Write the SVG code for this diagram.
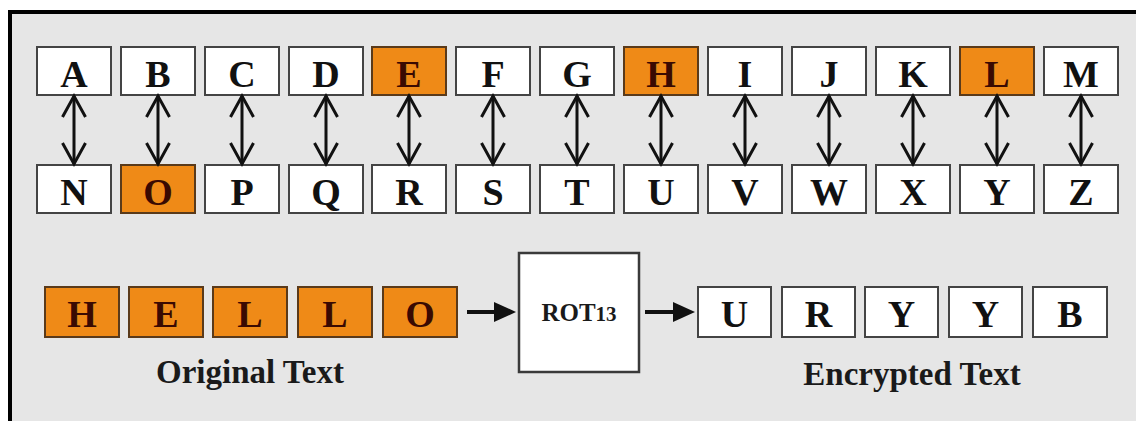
<svg xmlns="http://www.w3.org/2000/svg" width="1136" height="421" viewBox="0 0 1136 421">
  <style>
    .box { fill: #ffffff; stroke: #444444; stroke-width: 2; }
    .hot { fill: #ef8a17; stroke: #5a3a1a; stroke-width: 2; }
    .ltr { font-family: "Liberation Serif", "Times New Roman", serif; font-weight: bold; font-size: 38px; text-anchor: middle; fill: #111111; }
    .hot-ltr { fill: #3a0a02; }
    .lbl { font-family: "Liberation Serif", "Times New Roman", serif; font-weight: bold; font-size: 33px; text-anchor: middle; fill: #1a1a1a; }
    .rot { font-family: "Liberation Serif", "Times New Roman", serif; font-weight: bold; font-size: 25px; text-anchor: middle; fill: #1a1a1a; }
    .pair { stroke: #111111; stroke-width: 3; fill: none; marker-start: url(#chev); marker-end: url(#chev); }
    .flow { stroke: #111111; stroke-width: 4; fill: none; marker-end: url(#tri); }
  </style>
  <defs>
    <marker id="chev" markerUnits="userSpaceOnUse" viewBox="-26 -16 30 32" markerWidth="30" markerHeight="32" refX="0" refY="0" orient="auto-start-reverse" overflow="visible">
      <path d="M-21,-11.5 L0,0 L-21,11.5" fill="none" stroke="#111111" stroke-width="3" stroke-linejoin="miter"/>
    </marker>
    <marker id="tri" markerUnits="userSpaceOnUse" viewBox="-24 -12 28 24" markerWidth="28" markerHeight="24" refX="-10" refY="0" orient="auto" overflow="visible">
      <path d="M-22,-10 L0,0 L-22,10 Z" fill="#111111"/>
    </marker>
  </defs>

  <!-- page and frame -->
  <rect x="0" y="0" width="1136" height="421" fill="#ffffff"/>
  <rect x="10" y="12" width="1126" height="409" fill="#e6e6e6"/>
  <path d="M10,421 V12 H1136" fill="none" stroke="#000000" stroke-width="4"/>

  <!-- alphabet, first half -->
  <g id="A"><rect class="box" x="37" y="47" width="74" height="48"/><text class="ltr" x="74" y="87">A</text></g>
  <g id="B"><rect class="box" x="121" y="47" width="74" height="48"/><text class="ltr" x="158" y="87">B</text></g>
  <g id="C"><rect class="box" x="205" y="47" width="74" height="48"/><text class="ltr" x="242" y="87">C</text></g>
  <g id="D"><rect class="box" x="289" y="47" width="74" height="48"/><text class="ltr" x="326" y="87">D</text></g>
  <g id="E"><rect class="hot" x="372" y="47" width="74" height="48"/><text class="ltr hot-ltr" x="409" y="87">E</text></g>
  <g id="F"><rect class="box" x="456" y="47" width="74" height="48"/><text class="ltr" x="493" y="87">F</text></g>
  <g id="G"><rect class="box" x="540" y="47" width="74" height="48"/><text class="ltr" x="577" y="87">G</text></g>
  <g id="H"><rect class="hot" x="624" y="47" width="74" height="48"/><text class="ltr hot-ltr" x="661" y="87">H</text></g>
  <g id="I"><rect class="box" x="708" y="47" width="74" height="48"/><text class="ltr" x="745" y="87">I</text></g>
  <g id="J"><rect class="box" x="792" y="47" width="74" height="48"/><text class="ltr" x="829" y="87">J</text></g>
  <g id="K"><rect class="box" x="876" y="47" width="74" height="48"/><text class="ltr" x="913" y="87">K</text></g>
  <g id="L"><rect class="hot" x="960" y="47" width="74" height="48"/><text class="ltr hot-ltr" x="997" y="87">L</text></g>
  <g id="M"><rect class="box" x="1044" y="47" width="74" height="48"/><text class="ltr" x="1081" y="87">M</text></g>

  <!-- alphabet, second half -->
  <g id="N"><rect class="box" x="37" y="165" width="74" height="48"/><text class="ltr" x="74" y="205">N</text></g>
  <g id="O"><rect class="hot" x="121" y="165" width="74" height="48"/><text class="ltr hot-ltr" x="158" y="205">O</text></g>
  <g id="P"><rect class="box" x="205" y="165" width="74" height="48"/><text class="ltr" x="242" y="205">P</text></g>
  <g id="Q"><rect class="box" x="289" y="165" width="74" height="48"/><text class="ltr" x="326" y="205">Q</text></g>
  <g id="R"><rect class="box" x="372" y="165" width="74" height="48"/><text class="ltr" x="409" y="205">R</text></g>
  <g id="S"><rect class="box" x="456" y="165" width="74" height="48"/><text class="ltr" x="493" y="205">S</text></g>
  <g id="T"><rect class="box" x="540" y="165" width="74" height="48"/><text class="ltr" x="577" y="205">T</text></g>
  <g id="U"><rect class="box" x="624" y="165" width="74" height="48"/><text class="ltr" x="661" y="205">U</text></g>
  <g id="V"><rect class="box" x="708" y="165" width="74" height="48"/><text class="ltr" x="745" y="205">V</text></g>
  <g id="W"><rect class="box" x="792" y="165" width="74" height="48"/><text class="ltr" x="829" y="205">W</text></g>
  <g id="X"><rect class="box" x="876" y="165" width="74" height="48"/><text class="ltr" x="913" y="205">X</text></g>
  <g id="Y"><rect class="box" x="960" y="165" width="74" height="48"/><text class="ltr" x="997" y="205">Y</text></g>
  <g id="Z"><rect class="box" x="1044" y="165" width="74" height="48"/><text class="ltr" x="1081" y="205">Z</text></g>

  <!-- plain text -->
  <g id="plain">
    <rect class="hot" x="45" y="287" width="74" height="50"/><text class="ltr hot-ltr" x="82" y="327">H</text>
    <rect class="hot" x="129" y="287" width="74" height="50"/><text class="ltr hot-ltr" x="166" y="327">E</text>
    <rect class="hot" x="213" y="287" width="74" height="50"/><text class="ltr hot-ltr" x="250" y="327">L</text>
    <rect class="hot" x="298" y="287" width="74" height="50"/><text class="ltr hot-ltr" x="335" y="327">L</text>
    <rect class="hot" x="383" y="287" width="74" height="50"/><text class="ltr hot-ltr" x="420" y="327">O</text>
    <text class="lbl" x="250" y="383">Original Text</text>
  </g>

  <!-- cipher step -->
  <g id="rot13">
    <rect x="519" y="253" width="120" height="119" fill="#ffffff" stroke="#3a3a3a" stroke-width="2.5"/>
    <text class="rot" x="579" y="321">ROT<tspan font-size="21">13</tspan></text>
  </g>

  <!-- cipher text -->
  <g id="cipher">
    <rect class="box" x="698" y="287" width="73" height="50"/><text class="ltr" x="734.5" y="327">U</text>
    <rect class="box" x="782" y="287" width="73" height="50"/><text class="ltr" x="818.5" y="327">R</text>
    <rect class="box" x="865" y="287" width="73" height="50"/><text class="ltr" x="901.5" y="327">Y</text>
    <rect class="box" x="949" y="287" width="73" height="50"/><text class="ltr" x="985.5" y="327">Y</text>
    <rect class="box" x="1033" y="287" width="74" height="50"/><text class="ltr" x="1070" y="327">B</text>
    <text class="lbl" x="912" y="385">Encrypted Text</text>
  </g>

  <!-- connectors -->
  <g id="connectors">
    <line class="pair" x1="74" y1="96" x2="74" y2="164"/>
    <line class="pair" x1="158" y1="96" x2="158" y2="164"/>
    <line class="pair" x1="242" y1="96" x2="242" y2="164"/>
    <line class="pair" x1="326" y1="96" x2="326" y2="164"/>
    <line class="pair" x1="409" y1="96" x2="409" y2="164"/>
    <line class="pair" x1="493" y1="96" x2="493" y2="164"/>
    <line class="pair" x1="577" y1="96" x2="577" y2="164"/>
    <line class="pair" x1="661" y1="96" x2="661" y2="164"/>
    <line class="pair" x1="745" y1="96" x2="745" y2="164"/>
    <line class="pair" x1="829" y1="96" x2="829" y2="164"/>
    <line class="pair" x1="913" y1="96" x2="913" y2="164"/>
    <line class="pair" x1="997" y1="96" x2="997" y2="164"/>
    <line class="pair" x1="1081" y1="96" x2="1081" y2="164"/>
    <line class="flow" x1="467" y1="312" x2="506" y2="312"/>
    <line class="flow" x1="645" y1="312" x2="685" y2="312"/>
  </g>
</svg>
